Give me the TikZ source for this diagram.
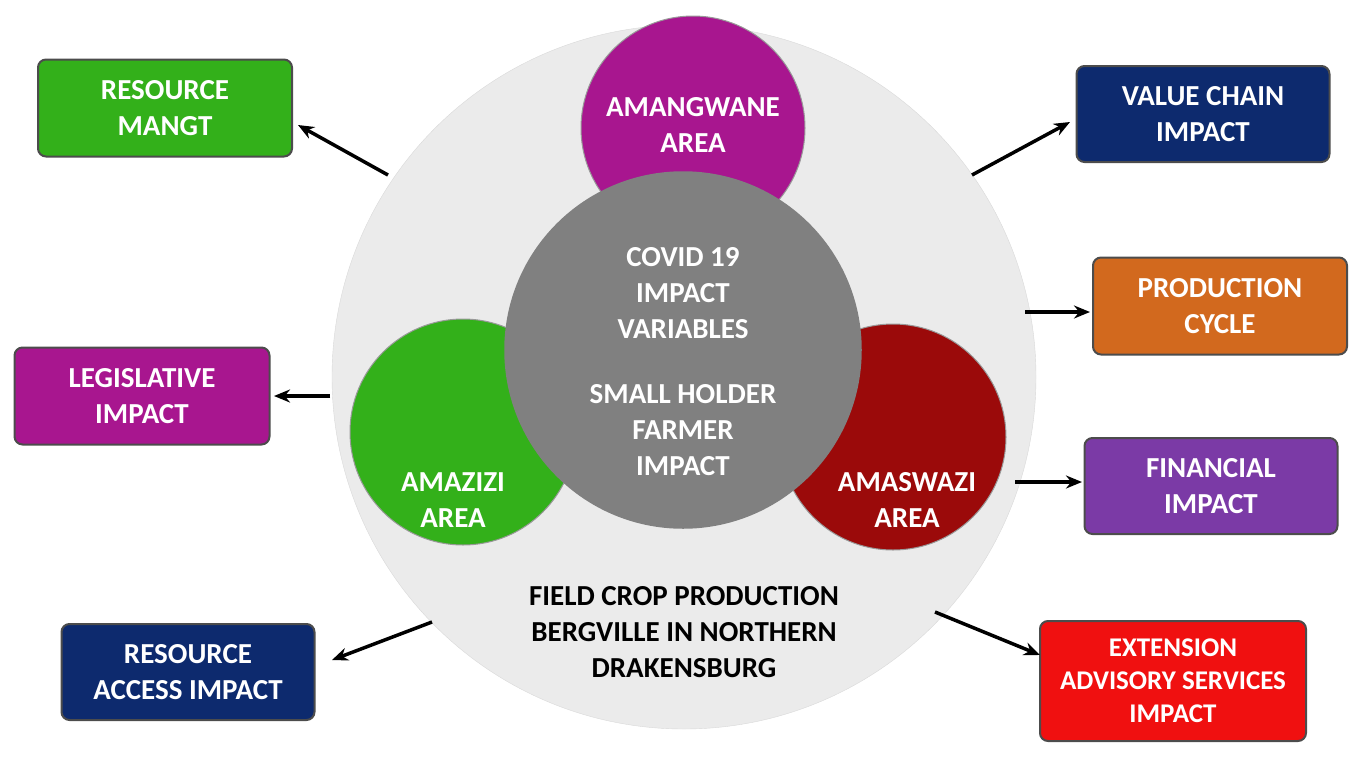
\documentclass[tikz,border=0pt]{standalone}
\usepackage{fontspec}
\setmainfont{Carlito}
\usetikzlibrary{arrows.meta}
\definecolor{cgreen}{HTML}{33B01A}
\definecolor{cmag}{HTML}{A8168F}
\definecolor{cnavy}{HTML}{0D2A6E}
\definecolor{corange}{HTML}{D2691E}
\definecolor{cpurple}{HTML}{7B3AA6}
\definecolor{cred}{HTML}{F01010}
\definecolor{cdred}{HTML}{9B0A0A}
\definecolor{cgray}{HTML}{808080}
\begin{document}
\begin{tikzpicture}[x=1pt,y=-1pt,
  lbl/.style={text=white,font=\fontsize{29}{36}\selectfont\bfseries,align=center},
  box/.style={draw=black!70,line width=2pt,rounded corners=8pt,text=white,font=\fontsize{29}{36}\selectfont\bfseries,align=center},
  arr/.style={-{Stealth[length=16pt,width=13pt]},line width=3.5pt}]
\useasboundingbox (0,0) rectangle (1368,769);
\node[circle,fill=black!8,draw=black!15,minimum size=704pt] (big) at (684,377) {};
\node[circle,fill=cmag,draw=black!40,line width=1pt,minimum size=224pt] (ama) at (693,128) {};
\node[lbl] at (693,125) {AMANGWANE\\AREA};
\node[circle,fill=cgreen,draw=black!40,line width=1pt,minimum size=226pt] (amz) at (463,432) {};
\node[circle,fill=cdred,draw=black!40,line width=1pt,minimum size=226pt] (ams) at (893,437) {};
\node[circle,fill=cgray,draw=black!50,line width=1.5pt,minimum size=356pt] (cov) at (683,350) {};
\node[lbl] at (683,362) {COVID 19\\IMPACT\\VARIABLES\\[1.0em]SMALL HOLDER\\FARMER\\IMPACT};
\node[lbl] at (453,500) {AMAZIZI\\AREA};
\node[lbl] at (907,500) {AMASWAZI\\AREA};
\node[font=\fontsize{29}{36}\selectfont\bfseries,align=center] (fc) at (684,632) {FIELD CROP PRODUCTION\\BERGVILLE IN NORTHERN\\DRAKENSBURG};
\node[box,fill=cgreen,minimum width=254pt,minimum height=97pt] (b1) at (165,108) {RESOURCE\\MANGT};
\node[box,fill=cmag,minimum width=255pt,minimum height=97pt] (b2) at (142,396) {LEGISLATIVE\\IMPACT};
\node[box,fill=cnavy,minimum width=253pt,minimum height=96pt] (b3) at (188,672) {RESOURCE\\ACCESS IMPACT};
\node[box,fill=cnavy,minimum width=253pt,minimum height=96pt] (b4) at (1203,114) {VALUE CHAIN\\IMPACT};
\node[box,fill=corange,minimum width=254pt,minimum height=97pt] (b5) at (1220,306) {PRODUCTION\\CYCLE};
\node[box,fill=cpurple,minimum width=253pt,minimum height=96pt] (b6) at (1211,486) {FINANCIAL\\IMPACT};
\node[box,fill=cred,minimum width=266pt,minimum height=120pt,font=\fontsize{27}{33}\selectfont\bfseries] (b7) at (1173,681) {EXTENSION\\ADVISORY SERVICES\\IMPACT};
\coordinate (s1) at (388,175); \coordinate (e1) at (298,125);
\coordinate (s2) at (330,396); \coordinate (e2) at (274,396);
\coordinate (s3) at (432,622); \coordinate (e3) at (332,660);
\coordinate (s4) at (972,175); \coordinate (e4) at (1070,122);
\coordinate (s5) at (1025,312); \coordinate (e5) at (1090,312);
\coordinate (s6) at (1015,482); \coordinate (e6) at (1082,482);
\coordinate (s7) at (935,612); \coordinate (e7) at (1040,655);
\foreach \i in {1,...,7} {\draw[arr] (s\i) -- (e\i);}
\end{tikzpicture}
\end{document}
